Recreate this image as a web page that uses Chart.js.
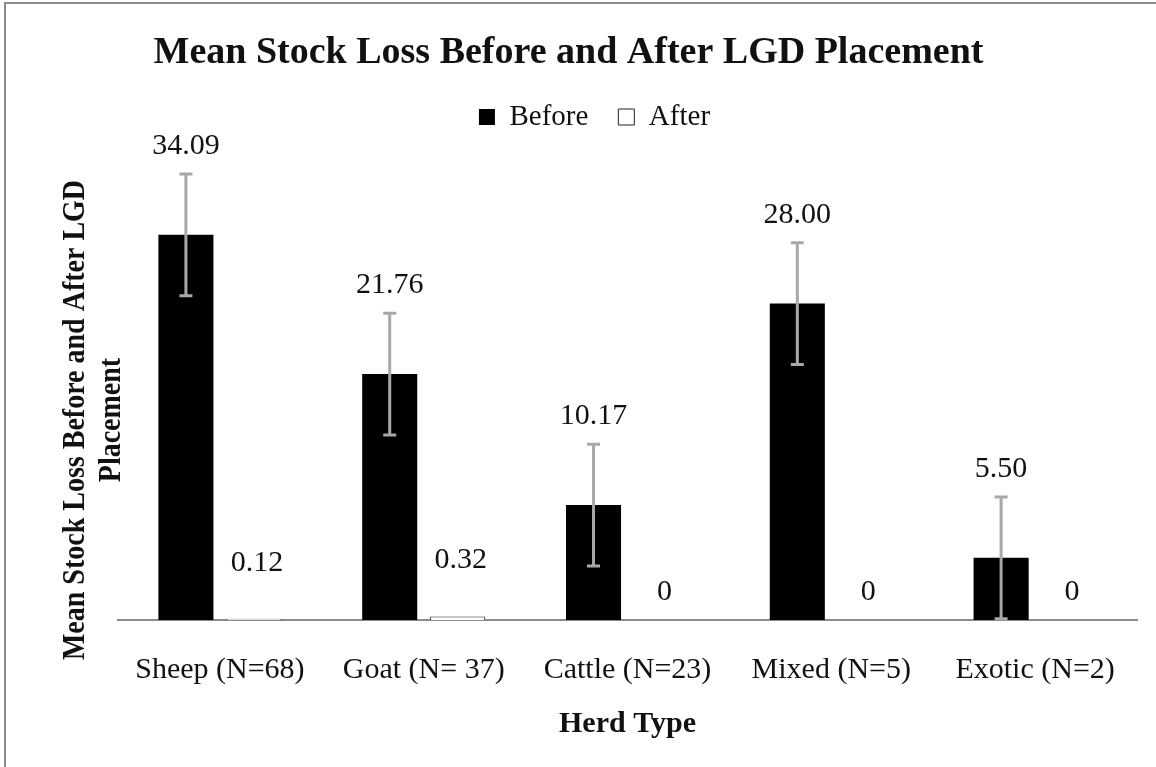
<!DOCTYPE html>
<html><head><meta charset="utf-8">
<script src="https://cdn.jsdelivr.net/npm/chart.js@4.4.1/dist/chart.umd.min.js"></script>
<style>
html,body{margin:0;padding:0;background:#fff;overflow:hidden}
#frame{position:absolute;left:4px;top:2px;width:1300px;height:900px;border-left:2px solid #8c8c8c;border-top:2px solid #8c8c8c;box-sizing:border-box}
#wrap{position:absolute;left:0;top:0;width:1156px;height:767px}
</style></head><body>
<div id="frame"></div>
<div id="wrap"><canvas id="c" width="1156" height="767"></canvas></div>
<script>
const categories = ['Sheep (N=68)', 'Goat (N= 37)', 'Cattle (N=23)', 'Mixed (N=5)', 'Exotic (N=2)'];
const beforeValues = [34.09, 21.76, 10.17, 28.00, 5.50];
const afterValues = [0.12, 0.32, 0, 0, 0];
const beforeErrors = [5.39, 5.39, 5.39, 5.39, 5.39];
const beforeLabels = ['34.09', '21.76', '10.17', '28.00', '5.50'];
const afterLabels = ['0.12', '0.32', '0', '0', '0'];
const yTitleLines = ['Mean Stock Loss Before and After LGD', 'Placement'];
const chartTitle = 'Mean Stock Loss Before and After LGD Placement';
const xTitle = 'Herd Type';

const SERIF = '"Liberation Serif", "Times New Roman", serif';
const TEXT = '#111';

const errorBars = {
  id: 'errorBars',
  afterDatasetsDraw(chart) {
    const ctx = chart.ctx, y = chart.scales.y;
    const meta = chart.getDatasetMeta(0);
    ctx.save();
    ctx.strokeStyle = '#a8a8a8';
    ctx.lineWidth = 3;
    meta.data.forEach((bar, i) => {
      const v = beforeValues[i], e = beforeErrors[i];
      const yt = y.getPixelForValue(v + e), yb = y.getPixelForValue(Math.max(0, v - e));
      ctx.beginPath();
      ctx.moveTo(bar.x, yt); ctx.lineTo(bar.x, yb);
      ctx.moveTo(bar.x - 6.5, yt); ctx.lineTo(bar.x + 6.5, yt);
      ctx.moveTo(bar.x - 6.5, yb); ctx.lineTo(bar.x + 6.5, yb);
      ctx.stroke();
    });
    ctx.restore();
  }
};

const valueLabels = {
  id: 'valueLabels',
  afterDatasetsDraw(chart) {
    const ctx = chart.ctx, y = chart.scales.y;
    ctx.save();
    ctx.font = '30px ' + SERIF;
    ctx.fillStyle = TEXT;
    ctx.textAlign = 'center';
    ctx.textBaseline = 'middle';
    chart.getDatasetMeta(0).data.forEach((bar, i) => {
      ctx.fillText(beforeLabels[i], bar.x, y.getPixelForValue(beforeValues[i] + beforeErrors[i]) - 28);
    });
    chart.getDatasetMeta(1).data.forEach((bar, i) => {
      const off = afterValues[i] > 0 ? 56 : 28;
      ctx.fillText(afterLabels[i], bar.x + 3, y.getPixelForValue(afterValues[i]) - off);
    });
    ctx.restore();
  }
};

const yAxisTitle = {
  id: 'yAxisTitle',
  afterDraw(chart) {
    const ctx = chart.ctx;
    ctx.save();
    ctx.font = 'bold 28px ' + SERIF;
    ctx.fillStyle = TEXT;
    ctx.textAlign = 'center';
    ctx.textBaseline = 'middle';
    const xs = [76, 112];
    yTitleLines.forEach((line, i) => {
      ctx.save();
      ctx.translate(xs[i], 420);
      ctx.rotate(-Math.PI / 2);
      ctx.scale(1, 1.1);
      ctx.fillText(line, 0, 0);
      ctx.restore();
    });
    ctx.restore();
  }
};

const legendShift = {
  id: 'legendShift',
  afterLayout(chart) {
    const l = chart.legend;
    if (l) { l.left += 26; l.right += 26; }
  }
};

new Chart(document.getElementById('c'), {
  type: 'bar',
  data: {
    labels: categories,
    datasets: [
      { label: 'Before', data: beforeValues, backgroundColor: '#000', borderWidth: 0,
        categoryPercentage: 0.667, barPercentage: 0.81 },
      { label: 'After', data: afterValues, backgroundColor: '#fff', borderColor: '#222', borderWidth: 1,
        categoryPercentage: 0.667, barPercentage: 0.81 }
    ]
  },
  options: {
    responsive: false,
    animation: false,
    devicePixelRatio: 1,
    layout: { padding: { left: 0, right: 19, top: 0, bottom: 0 } },
    plugins: {
      title: {
        display: true, text: chartTitle, color: TEXT,
        font: { family: SERIF, size: 38, weight: 'bold', lineHeight: 1.0 },
        padding: { top: 34.5, bottom: 0 }
      },
      legend: {
        display: true, position: 'top',
        labels: { color: TEXT, font: { family: SERIF, size: 29 }, boxWidth: 16, boxHeight: 16, padding: 30 }
      },
      tooltip: { enabled: false }
    },
    scales: {
      x: {
        position: 'bottom',
        grid: { display: false, drawTicks: false },
        border: { display: true, color: '#8c8c8c', width: 2 },
        ticks: { color: TEXT, font: { family: SERIF, size: 30 }, padding: 32, maxRotation: 0, autoSkip: false },
        title: { display: true, text: xTitle, color: TEXT, font: { family: SERIF, size: 30, weight: 'bold' },
                 padding: { top: 0, bottom: 25 } },
        afterFit(s) { s.height = 147; }
      },
      spacer: {
        type: 'linear', position: 'top', display: true,
        grid: { display: false, drawTicks: false },
        border: { display: false },
        ticks: { display: false },
        afterFit(s) { s.height = 26.5; }
      },
      y: {
        min: 0, max: 40,
        grid: { display: false, drawTicks: false },
        border: { display: false },
        ticks: { display: false },
        afterFit(s) { s.width = 118; }
      }
    }
  },
  plugins: [errorBars, valueLabels, yAxisTitle, legendShift]
});
</script>
</body></html>
